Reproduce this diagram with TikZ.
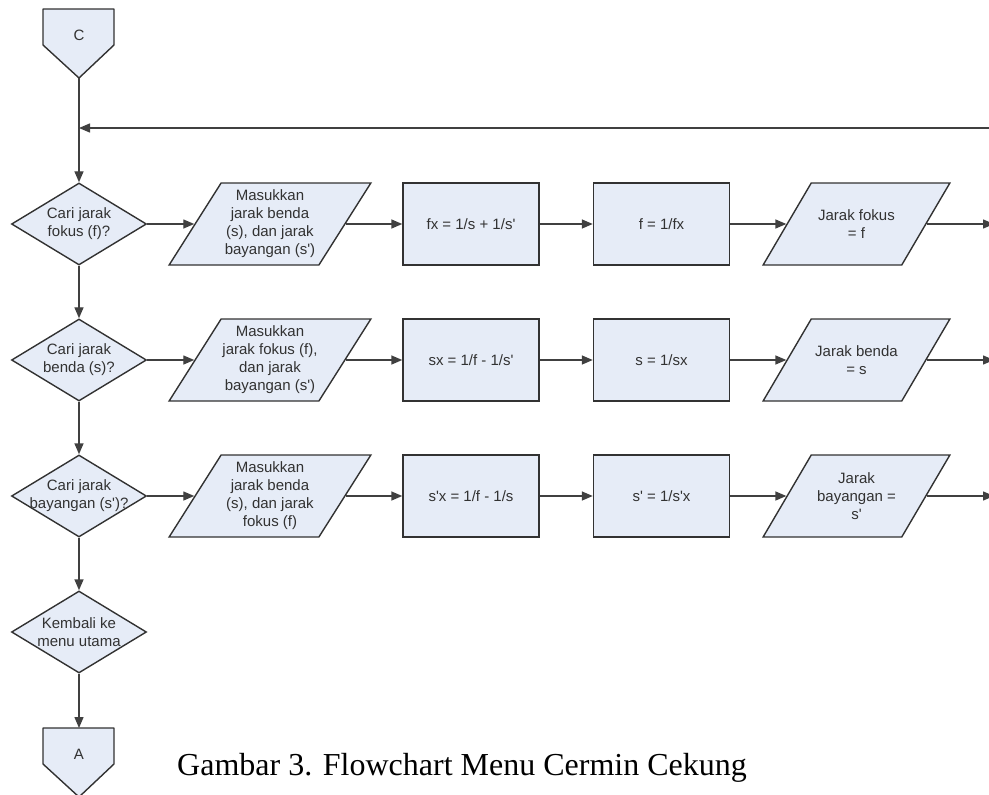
\documentclass[tikz,border=0pt]{standalone}
\usepackage{fontspec}
\setmainfont{Liberation Serif}
\newfontfamily\flowfont{Liberation Sans}
\usetikzlibrary{arrows.meta}
\usetikzlibrary{shapes.geometric}

\definecolor{boxfill}{RGB}{230,236,247}
\definecolor{boxline}{RGB}{50,50,50}
\definecolor{flowline}{RGB}{64,64,64}

\tikzset{
  chart/.style={draw=boxline, line width=1.4pt, fill=boxfill, text=boxline,
    font=\flowfont\fontsize{15}{18}\selectfont, align=center, inner sep=0pt},
  decision/.style={chart, diamond, minimum width=135pt, minimum height=82pt},
  process/.style={chart, rectangle, minimum width=136pt, minimum height=82pt},
  inout/.style={chart, trapezium, trapezium left angle=62, trapezium right angle=118,
    trapezium stretches=true, inner sep=4pt, minimum height=82pt},
  inside/.style={font=\flowfont\fontsize{15}{18}\selectfont, text=boxline, align=center},
  flow/.style={draw=flowline, line width=1.4pt, -{Triangle[length=11pt,width=9pt]}}
}

\begin{document}
\begin{tikzpicture}[x=1pt, y=-1pt]
    \useasboundingbox (0,0) rectangle (989,795);
    \foreach \n/\t/\y in {c/C/9, a/A/728} {
        \filldraw [draw=boxline, fill=boxfill, line width=1.4pt, line join=round]
            (43,\y) -- (114,\y) -- (114,\y+36) -- (79,\y+69) -- (43,\y+36) -- cycle;
        \node [inside] (\n) at (79,\y+26) {\t};
    }
    \coordinate (ctip) at (79,78);
    \coordinate (atop) at (79,728);
    \coordinate (join) at (79,128);
    \coordinate (back) at (995,128);
    \node [decision, label={[inside]center:{Cari jarak\\fokus (f)?}}] (q1) at (79,224) {};
    \node [decision, label={[inside]center:{Cari jarak\\benda (s)?}}] (q2) at (79,360) {};
    \node [decision, label={[inside]center:{Cari jarak\\bayangan (s')?}}] (q3) at (79,496) {};
    \node [decision, label={[inside]center:{Kembali ke\\menu utama}}] (q4) at (79,632) {};
    \node [inout, minimum width=202pt, label={[inside]center:{Masukkan\\jarak benda\\(s), dan jarak\\bayangan (s')}}] (p1) at (270,224) {};
    \node [inout, minimum width=202pt, label={[inside]center:{Masukkan\\jarak fokus (f),\\dan jarak\\bayangan (s')}}] (p2) at (270,360) {};
    \node [inout, minimum width=202pt, label={[inside]center:{Masukkan\\jarak benda\\(s), dan jarak\\fokus (f)}}] (p3) at (270,496) {};
    \node [process] (s1) at (471,224) {fx = 1/s + 1/s'};
    \node [process] (s2) at (471,360) {sx = 1/f - 1/s'};
    \node [process] (s3) at (471,496) {s'x = 1/f - 1/s};
    \node [process] (t1) at (661.5,224) {f = 1/fx};
    \node [process] (t2) at (661.5,360) {s = 1/sx};
    \node [process] (t3) at (661.5,496) {s' = 1/s'x};
    \node [inout, minimum width=187pt, label={[inside]center:{Jarak fokus\\= f}}] (r1) at (856.5,224) {};
    \node [inout, minimum width=187pt, label={[inside]center:{Jarak benda\\= s}}] (r2) at (856.5,360) {};
    \node [inout, minimum width=187pt, label={[inside]center:{Jarak\\bayangan =\\s'}}] (r3) at (856.5,496) {};
    \foreach \r/\y in {1/224,2/360,3/496}
        \coordinate (out\r) at (994,\y);
    \draw [flow] (ctip) -- (q1);
    \draw [flow] (back) -- (join);
    \draw [flow] (q1) -- (q2);
    \draw [flow] (q2) -- (q3);
    \draw [flow] (q3) -- (q4);
    \draw [flow] (q4) -- (atop);
    \foreach \r in {1,2,3} {
        \draw [flow] (q\r) -- (p\r);
        \draw [flow] (p\r) -- (s\r);
        \draw [flow] (s\r) -- (t\r);
        \draw [flow] (t\r) -- (r\r);
        \draw [flow] (r\r) -- (out\r);
    }
    \node [anchor=base west, inner sep=0pt, font=\fontsize{32}{38}\selectfont] (cap) at (177,775) {Gambar 3. Flowchart Menu Cermin Cekung};
\end{tikzpicture}
\end{document}
